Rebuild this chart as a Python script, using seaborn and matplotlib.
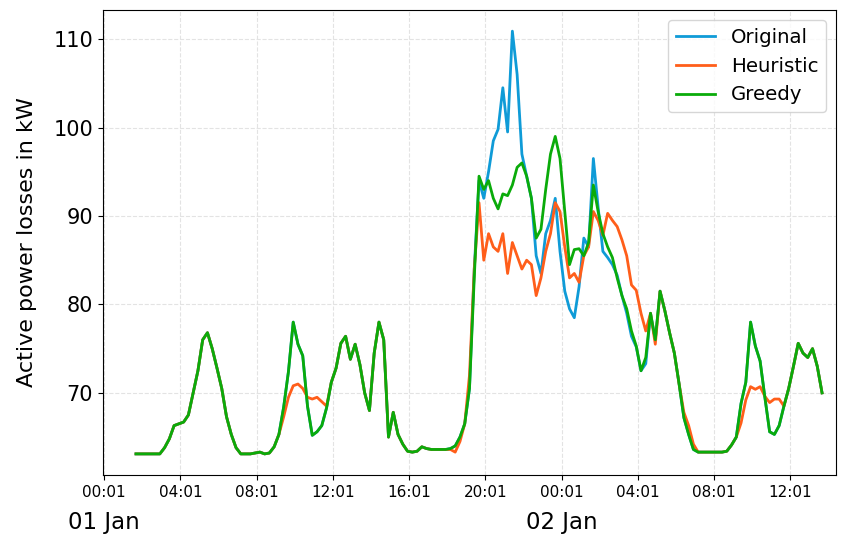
import matplotlib
matplotlib.use("Agg")
import matplotlib.pyplot as plt
import matplotlib.dates as mdates
import matplotlib.transforms as mtransforms
import numpy as np
import pandas as pd
import seaborn as sns

# ---- data (15-min resolution, from 01 Jan 01:41 to 02 Jan 13:41) ----
start_time = "2024-01-01 01:41"
n_points = 145

original = [
    63.1, 63.1,
    63.1, 63.1, 63.1, 63.1,
    63.8, 64.8, 66.3, 66.5,
    66.7, 67.5, 70.0, 72.5,
    76.0, 76.8, 75.0, 72.8,
    70.5, 67.3, 65.3, 63.8,
    63.1, 63.1, 63.1, 63.2,
    63.3, 63.1, 63.2, 63.9,
    65.3, 68.4, 72.4, 78.0,
    75.5, 74.2, 68.5, 65.2,
    65.6, 66.3, 68.3, 71.2,
    72.8, 75.6, 76.4, 73.8,
    75.5, 73.2, 70.0, 68.0,
    74.5, 78.0, 76.0, 65.0,
    67.8, 65.3, 64.2, 63.4,
    63.3, 63.4, 63.9, 63.7,
    63.6, 63.6, 63.6, 63.6,
    63.7, 64.0, 65.0, 66.5,
    70.5, 84.0, 94.0, 92.0,
    95.0, 98.5, 99.8, 104.5,
    99.5, 110.9, 106.0, 97.0,
    94.5, 92.0, 85.5, 83.5,
    88.0, 89.5, 92.0, 86.0,
    81.5, 79.5, 78.5, 82.0,
    87.5, 86.5, 96.5, 91.0,
    86.0, 85.3, 84.5, 83.3,
    81.0, 79.0, 76.4, 75.2,
    72.5, 73.3, 79.0, 76.0,
    81.5, 79.3, 76.8, 74.5,
    71.0, 67.2, 65.3, 63.6,
    63.3, 63.3, 63.3, 63.3,
    63.3, 63.3, 63.4, 64.1,
    65.0, 68.8, 71.2, 78.0,
    75.3, 73.6, 69.5, 65.6,
    65.3, 66.3, 68.5, 70.5,
    73.0, 75.6, 74.5, 74.0,
    75.0, 73.0, 70.0,
]

heuristic = [
    63.1, 63.1,
    63.1, 63.1, 63.1, 63.1,
    63.8, 64.8, 66.3, 66.5,
    66.7, 67.5, 70.0, 72.5,
    76.0, 76.8, 75.0, 72.8,
    70.5, 67.3, 65.3, 63.8,
    63.1, 63.1, 63.1, 63.2,
    63.3, 63.1, 63.2, 63.9,
    65.3, 67.3, 69.5, 70.8,
    71.0, 70.5, 69.5, 69.3,
    69.5, 69.0, 68.5, 71.2,
    72.8, 75.6, 76.4, 73.8,
    75.5, 73.2, 70.0, 68.0,
    74.5, 78.0, 76.0, 65.0,
    67.8, 65.3, 64.2, 63.4,
    63.3, 63.4, 63.9, 63.7,
    63.6, 63.6, 63.6, 63.6,
    63.6, 63.3, 64.5, 66.5,
    72.0, 84.0, 91.5, 85.0,
    88.0, 86.5, 86.0, 88.0,
    83.5, 87.0, 85.5, 84.0,
    85.0, 84.5, 81.0, 83.0,
    86.0, 88.0, 91.5, 90.5,
    86.5, 83.0, 83.5, 82.5,
    85.5, 86.5, 90.5, 89.5,
    87.8, 90.3, 89.5, 88.8,
    87.3, 85.5, 82.2, 81.6,
    79.0, 77.0, 79.0, 75.5,
    81.5, 79.3, 76.8, 74.5,
    71.0, 67.8, 66.3, 64.2,
    63.3, 63.3, 63.3, 63.3,
    63.3, 63.3, 63.4, 64.1,
    65.0, 66.6, 69.2, 70.7,
    70.4, 70.7, 69.6, 68.9,
    69.3, 69.3, 68.5, 70.5,
    73.0, 75.6, 74.5, 74.0,
    75.0, 73.0, 70.0,
]

greedy = [
    63.1, 63.1,
    63.1, 63.1, 63.1, 63.1,
    63.8, 64.8, 66.3, 66.5,
    66.7, 67.5, 70.0, 72.5,
    76.0, 76.8, 75.0, 72.8,
    70.5, 67.3, 65.3, 63.8,
    63.1, 63.1, 63.1, 63.2,
    63.3, 63.1, 63.2, 63.9,
    65.3, 68.4, 72.4, 78.0,
    75.5, 74.2, 68.5, 65.2,
    65.6, 66.3, 68.3, 71.2,
    72.8, 75.6, 76.4, 73.8,
    75.5, 73.2, 70.0, 68.0,
    74.5, 78.0, 76.0, 65.0,
    67.8, 65.3, 64.2, 63.4,
    63.3, 63.4, 63.9, 63.7,
    63.6, 63.6, 63.6, 63.6,
    63.7, 64.0, 65.0, 66.5,
    70.5, 83.0, 94.5, 93.0,
    94.0, 92.0, 90.8, 92.5,
    92.3, 93.5, 95.5, 96.0,
    94.5, 92.0, 87.5, 88.5,
    93.0, 97.0, 99.0, 96.5,
    90.5, 84.5, 86.2, 86.3,
    85.5, 87.0, 93.5, 90.5,
    88.0, 86.5, 85.3, 83.0,
    81.0, 79.5, 77.0, 75.3,
    72.5, 74.0, 79.0, 76.0,
    81.5, 79.3, 76.8, 74.5,
    71.0, 67.2, 65.3, 63.6,
    63.3, 63.3, 63.3, 63.3,
    63.3, 63.3, 63.4, 64.1,
    65.0, 68.8, 71.2, 78.0,
    75.3, 73.6, 69.5, 65.6,
    65.3, 66.3, 68.5, 70.5,
    73.0, 75.6, 74.5, 74.0,
    75.0, 73.0, 70.0,
]

series_names = ["Original", "Heuristic", "Greedy"]
series_colors = ["#0f9bd7", "#ff5e1a", "#0aab0a"]
tick_labels_start = "2024-01-01 00:01"
day_labels = ["01 Jan", "02 Jan"]
day_positions = ["2024-01-01 00:01", "2024-01-02 00:01"]
y_ticks = [70, 80, 90, 100, 110]

times = pd.date_range(start_time, periods=n_points, freq="15min")
df = pd.concat([
    pd.DataFrame({"time": times, "loss": vals, "series": name})
    for name, vals in zip(series_names, [original, heuristic, greedy])
], ignore_index=True)

fig = plt.figure(figsize=(8.46, 5.39), dpi=100)
ax = fig.add_axes([0.1217, 0.1187, 0.8665, 0.8627])

sns.lineplot(data=df, x="time", y="loss", hue="series", hue_order=series_names,
             palette=dict(zip(series_names, series_colors)), linewidth=2.0,
             ax=ax, estimator=None)

ax.set_xlim(pd.Timestamp("2023-12-31 23:57"), pd.Timestamp("2024-01-02 14:25"))
xt = pd.date_range(tick_labels_start, periods=10, freq="4h")
ax.set_xticks(xt)
ax.xaxis.set_major_formatter(mdates.DateFormatter("%H:%M"))
ax.tick_params(axis="x", labelsize=11)
ax.set_yticks(y_ticks)
ax.tick_params(axis="y", labelsize=15)
ax.set_xlabel("")
ax.set_ylabel("Active power losses in kW", fontsize=16, labelpad=12)

ax.grid(True, linestyle="--", color="#e3e3e3", linewidth=0.8)
ax.set_axisbelow(True)

trans = mtransforms.blended_transform_factory(ax.transData, ax.transAxes)
for lab, pos in zip(day_labels, day_positions):
    ax.text(mdates.date2num(pd.Timestamp(pos)), -0.078, lab, transform=trans,
            ha="center", va="top", fontsize=16.5)

handles, labels = ax.get_legend_handles_labels()
ax.legend(handles, labels, loc="upper right", fontsize=14.2)

fig.savefig("out.png", dpi=100)
